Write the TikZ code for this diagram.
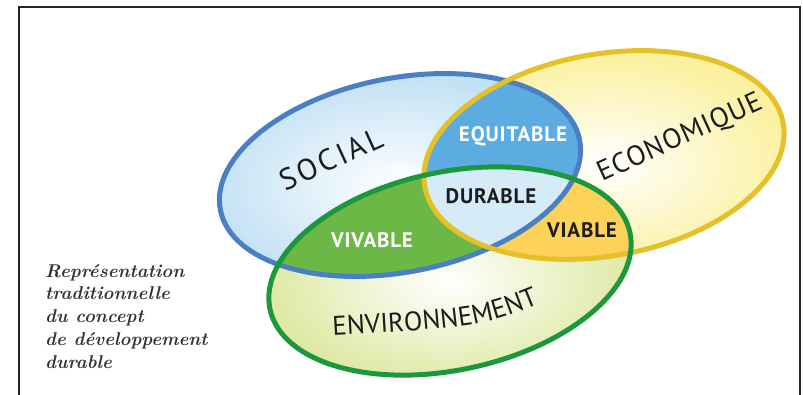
\documentclass[tikz,border=0pt]{standalone}
\usepackage{fontspec}
\setsansfont{PT Sans}
\usepackage{tikz}
\usetikzlibrary{positioning,decorations.text}

\definecolor{socialline}{RGB}{74,127,196}
\definecolor{socialfill}{RGB}{196,226,245}
\definecolor{ecoline}{RGB}{230,192,40}
\definecolor{ecofill}{RGB}{251,241,160}
\definecolor{envline}{RGB}{28,152,60}
\definecolor{envfill}{RGB}{221,232,160}
\definecolor{equitablefill}{RGB}{92,172,226}
\definecolor{vivablefill}{RGB}{108,184,70}
\definecolor{viablefill}{RGB}{253,210,88}
\definecolor{durablefill}{RGB}{214,235,248}
\definecolor{labeltext}{RGB}{28,28,28}

\tikzset{
  socialshape/.style={rotate around={11:(400,175)}},
  ecoshape/.style={rotate around={10:(604,155)}},
  envshape/.style={rotate around={12:(450,271)}},
  zoneline/.style={line width=5pt},
  bigword/.style={font=\sffamily\fontsize{#1}{#1}\selectfont, text=labeltext, inner sep=0pt},
  mixword/.style={font=\sffamily\bfseries\fontsize{21}{21}\selectfont\addfontfeatures{LetterSpace=4}, inner sep=0pt},
}

\begin{document}
\begin{tikzpicture}[x=1pt, y=-1pt]
            \useasboundingbox (0,0) rectangle (803,395);
            % cadre
            \draw [line width=2pt, black!85](19,395)--(19,7)--(800,7)--(800,395);

            % les trois zones
            \shade [socialshape, inner color=white, outer color=socialfill](400,175) ellipse (183 and 97);
            \shade [ecoshape, inner color=white, outer color=ecofill](604,155) ellipse (182 and 101);
            \shade [envshape, inner color=white, outer color=envfill](450,271) ellipse (184 and 99);

            % intersections
            \begin{scope}
            \clip [socialshape](400,175) ellipse (183 and 97);
            \fill [ecoshape, equitablefill](604,155) ellipse (182 and 101);
            \fill [envshape, vivablefill](450,271) ellipse (184 and 99);
            \end{scope}
            \begin{scope}
            \clip [ecoshape](604,155) ellipse (182 and 101);
            \fill [envshape, viablefill](450,271) ellipse (184 and 99);
            \end{scope}
            \begin{scope}
            \clip [socialshape](400,175) ellipse (183 and 97);
            \clip [ecoshape](604,155) ellipse (182 and 101);
            \fill [envshape, durablefill](450,271) ellipse (184 and 99);
            \end{scope}

            % contours
            \draw [socialshape, zoneline, socialline](400,175) ellipse (183 and 97);
            \draw [ecoshape, zoneline, ecoline](604,155) ellipse (182 and 101);
            \draw [envshape, zoneline, envline](450,271) ellipse (184 and 99);

            % textes
            \node [bigword=30, rotate=24.5] (social) at (331,159) {\addfontfeatures{LetterSpace=10}SOCIAL};
            \node [bigword=28, rotate=24.5] (economique) at (680,138) {\addfontfeatures{LetterSpace=3}ECONOMIQUE};
            \path [decorate, decoration={text along path, text align=center,
                text={|\sffamily\fontsize{27}{27}\selectfont\addfontfeatures{LetterSpace=17}\color{labeltext}|ENVIRONNEMENT}}]
                (318,336) .. controls (483,327) .. (553,298);
            \node [mixword, white] (equitable) at (513,136) {EQUITABLE};
            \node [mixword, labeltext] (durable) at (491,196) {DURABLE};
            \node [mixword, labeltext] (viable) at (582,230) {VIABLE};
            \node [mixword, white] (vivable) at (372,240) {VIVABLE};

            \node [anchor=north west, align=left, inner sep=0pt, text=black!80,
                font=\fontsize{18.5}{22.8}\selectfont\bfseries\itshape] (legende) at (45,264)
                {Représentation\\traditionnelle\\du concept\\de développement\\durable};
            \end{tikzpicture}
\end{document}
